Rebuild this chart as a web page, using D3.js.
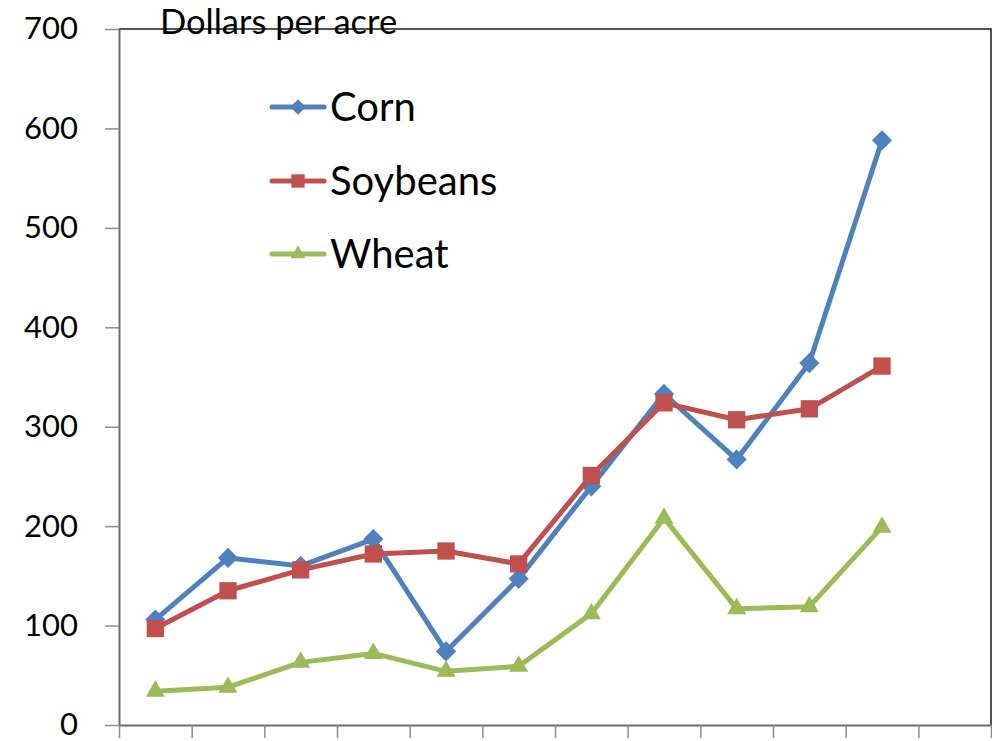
<!DOCTYPE html>
<html>
<head>
<meta charset="utf-8">
<script src="https://cdn.jsdelivr.net/npm/d3@7"></script>
<style>
  html, body { margin: 0; padding: 0; background: #fff; }
  svg { display: block; }
  text { font-family: Lato, "Open Sans", sans-serif; fill: #000; }
</style>
</head>
<body>
<svg id="chart" width="992" height="741"></svg>
<script>
// Crop values, dollars per acre, one value per period (12 slots, last one empty)
const slotCount = 12;
const cornValues     = [106, 168, 160, 187, 74, 147, 240, 333, 267, 364, 588];
const soybeanValues  = [97, 135, 156, 172, 175, 162, 251, 324, 307, 318, 361];
const wheatValues    = [34, 38, 63, 72, 54, 59, 112, 208, 117, 119, 199];
const yTickValues    = [0, 100, 200, 300, 400, 500, 600, 700];
const yAxisTitle     = "Dollars per acre";

const seriesList = [
  { name: "Corn",     values: cornValues,    color: "#4F81BD", shape: d3.symbolDiamond2,  size: 260 },
  { name: "Soybeans", values: soybeanValues, color: "#C0504D", shape: d3.symbolSquare2,   size: 380 },
  { name: "Wheat",    values: wheatValues,   color: "#9BBB59", shape: d3.symbolTriangle2, size: 260 }
];

const svg = d3.select("#chart");
const plotLeft = 119, plotRight = 991, plotTop = 29, plotBottom = 725;

const x = d3.scaleLinear().domain([0, slotCount]).range([plotLeft, plotRight]);
const y = d3.scaleLinear().domain([0, 700]).range([plotBottom, plotTop]);

// Plot frame (top and right edges)
svg.append("path")
  .attr("d", `M${plotLeft},${plotTop}H${plotRight}V${plotBottom}`)
  .attr("fill", "none")
  .attr("stroke", "#1a1a1a")
  .attr("stroke-width", 1.5);

// Y axis
const yAxis = svg.append("g")
  .attr("transform", `translate(${plotLeft},0)`)
  .call(d3.axisLeft(y).tickValues(yTickValues).tickSize(14).tickSizeOuter(0).tickPadding(27));
yAxis.select(".domain").attr("stroke", "#6e6e6e").attr("stroke-width", 2);
yAxis.selectAll(".tick line").attr("stroke", "#8c8c8c").attr("stroke-width", 1.5);
yAxis.selectAll(".tick text")
  .style("font-family", "Lato, 'Open Sans', sans-serif")
  .attr("font-size", 31)
  .attr("fill", "#000");

// X axis: boundary ticks between periods, no labels
const xAxis = svg.append("g")
  .attr("transform", `translate(0,${plotBottom})`)
  .call(d3.axisBottom(x).tickValues(d3.range(slotCount + 1)).tickFormat("").tickSize(13).tickSizeOuter(0));
xAxis.select(".domain").attr("stroke", "#6e6e6e").attr("stroke-width", 2);
xAxis.selectAll(".tick line").attr("stroke", "#8c8c8c").attr("stroke-width", 1.5);

// Axis title
svg.append("text")
  .attr("x", 160)
  .attr("y", 34)
  .attr("font-size", 34.5)
  .text(yAxisTitle);

// Series lines and markers
const line = d3.line()
  .x((d, i) => x(i + 0.5))
  .y(d => y(d));

seriesList.forEach(s => {
  const g = svg.append("g");
  g.append("path")
    .datum(s.values)
    .attr("d", line)
    .attr("fill", "none")
    .attr("stroke", s.color)
    .attr("stroke-width", 5)
    .attr("stroke-linejoin", "round")
    .attr("stroke-linecap", "round");
  g.selectAll("path.marker")
    .data(s.values)
    .join("path")
    .attr("class", "marker")
    .attr("d", d3.symbol().type(s.shape).size(s.size))
    .attr("transform", (d, i) => `translate(${x(i + 0.5)},${y(d)})`)
    .attr("fill", s.color);
});

// Legend
const legendY = [107, 181, 254];
seriesList.forEach((s, i) => {
  const g = svg.append("g").attr("transform", `translate(0,${legendY[i]})`);
  g.append("line")
    .attr("x1", 272).attr("x2", 324)
    .attr("stroke", s.color)
    .attr("stroke-width", 5)
    .attr("stroke-linecap", "round");
  g.append("path")
    .attr("d", d3.symbol().type(s.shape).size(s.size * 0.6))
    .attr("transform", "translate(298,0)")
    .attr("fill", s.color);
  g.append("text")
    .attr("x", 330)
    .attr("y", 0)
    .attr("dy", "0.35em")
    .attr("font-size", 40)
    .text(s.name);
});
</script>
</body>
</html>
